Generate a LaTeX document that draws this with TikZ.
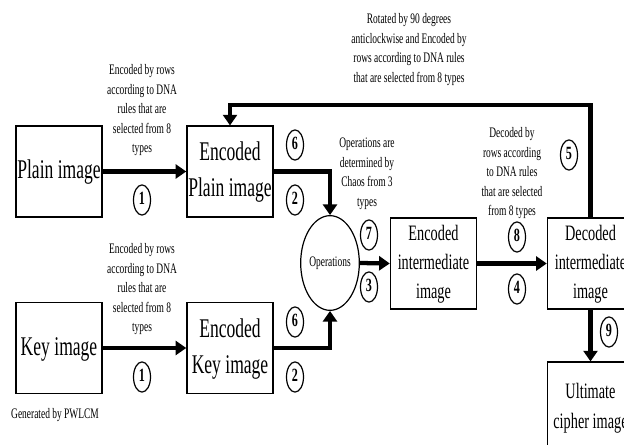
\documentclass[tikz,border=0pt]{standalone}
\usepackage{fontspec}
\setmainfont{Liberation Serif}
\usepackage{graphicx}
\usetikzlibrary{arrows.meta,shapes.geometric}
\newcommand{\sqz}[1]{\scalebox{0.65}[1]{\begin{tabular}{@{}c@{}}#1\end{tabular}}}
\tikzset{
  imgbox/.style={draw, line width=1.1pt, minimum width=64.5pt, minimum height=68pt, inner sep=0pt,
    font=\fontsize{20.25pt}{27pt}\selectfont},
  midbox/.style={imgbox, font=\fontsize{16.5pt}{22pt}\selectfont},
  numc/.style={draw, ellipse, line width=0.9pt, minimum width=12.75pt, minimum height=18pt, inner sep=0pt,
    font=\fontsize{14pt}{16pt}\selectfont\bfseries},
  lbl/.style={inner sep=0pt, font=\fontsize{10.9pt}{14.6pt}\selectfont},
  opnode/.style={draw, ellipse, line width=0.9pt, minimum width=37.5pt, minimum height=71pt, inner sep=0pt,
    font=\fontsize{10.9pt}{14.6pt}\selectfont},
  flow/.style={line width=3.2pt, -{Triangle[length=8pt,width=10.5pt]}}
}
\begin{document}
\begin{tikzpicture}[x=0.75pt,y=-0.75pt]
\useasboundingbox (0,0) rectangle (624,445);
\clip (0,0) rectangle (624,445);
% boxes
\node[imgbox] (pi) at (59,171.5) {\sqz{Plain image}};
\node[imgbox] (ep) at (230,171.5) {\sqz{Encoded\\Plain image}};
\node[imgbox] (ki) at (59,348) {\sqz{Key image}};
\node[imgbox] (ek) at (230,348) {\sqz{Encoded\\Key image}};
\node[opnode] (op) at (330,263) {\sqz{Operations}};
\node[midbox] (ei) at (433.5,263.5) {\sqz{Encoded\\intermediate\\image}};
\node[midbox] (dc) at (590.5,263.5) {\sqz{Decoded\\intermediate\\image}};
\node[midbox] (uc) at (590.5,407.5) {\sqz{Ultimate\\cipher image}};
% labels
\node[lbl] (l1) at (142,110) {\sqz{Encoded by rows\\according to DNA\\rules that are\\selected from 8\\types}};
\node[lbl] (l2) at (142,289) {\sqz{Encoded by rows\\according to DNA\\rules that are\\selected from 8\\types}};
\node[lbl] (l3) at (409,49) {\sqz{Rotated by 90 degrees\\anticlockwise and Encoded by\\rows according to DNA rules\\that are selected from 8 types}};
\node[lbl] (l4) at (367,173) {\sqz{Operations are\\determined by\\Chaos from 3\\types}};
\node[lbl] (l5) at (512,173) {\sqz{Decoded by\\rows according\\to DNA rules\\that are selected\\from 8 types}};
\node[lbl] (l6) at (55,415) {\sqz{Generated by PWLCM}};
% numbers
\node[numc] (n1a) at (142,200) {\sqz{1}};
\node[numc] (n1b) at (142,377) {\sqz{1}};
\node[numc] (n6a) at (295,145) {\sqz{6}};
\node[numc] (n2a) at (295,200) {\sqz{2}};
\node[numc] (n6b) at (295,322) {\sqz{6}};
\node[numc] (n2b) at (295,377) {\sqz{2}};
\node[numc] (n7) at (369,235) {\sqz{7}};
\node[numc] (n3) at (369,287) {\sqz{3}};
\node[numc] (n8) at (517,237) {\sqz{8}};
\node[numc] (n4) at (517,289) {\sqz{4}};
\node[numc] (n5) at (569,155) {\sqz{5}};
\node[numc] (n9) at (609,332) {\sqz{9}};
% connectors
\draw[flow] (pi.east) -- (ep.west);
\draw[flow] (ki.east) -- (ek.west);
\draw[flow] (ep.east) -| (op.north);
\draw[flow] (ek.east) -| (op.south);
\draw[flow] (op.east) -- (ei.west);
\draw[flow] (ei.east) -- (dc.west);
\draw[flow] (dc.south) -- (uc.north);
\coordinate (fbR) at (590.5,105);
\coordinate (fbL) at (230,105);
\draw[flow] (dc.north) -- (fbR) -- (fbL) -- (ep.north);
\end{tikzpicture}
\end{document}
